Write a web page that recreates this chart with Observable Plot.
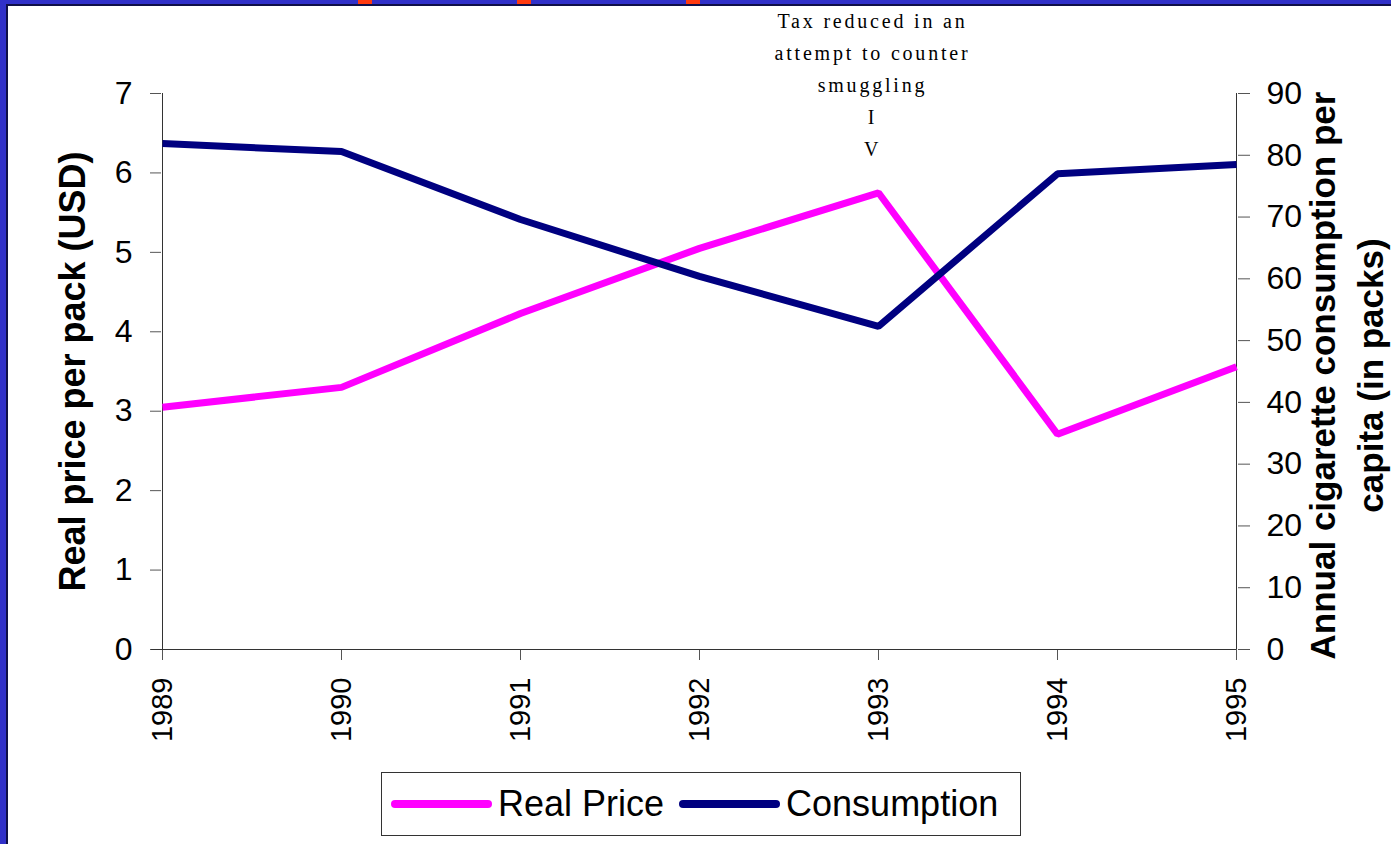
<!DOCTYPE html>
<html><head><meta charset="utf-8">
<script src="https://cdn.jsdelivr.net/npm/d3@7"></script>
<script src="https://cdn.jsdelivr.net/npm/@observablehq/plot@0.6"></script>
<style>
html,body{margin:0;padding:0;}
body{width:1391px;height:844px;background:#3131C9;position:relative;overflow:hidden;font-family:"Liberation Sans",Arial,sans-serif;}
#panel{position:absolute;left:6px;top:4px;right:0;bottom:0;background:#fff;border-left:2px solid #101048;border-top:2px solid #101048;}
.frag{position:absolute;top:0;width:14px;height:4px;background:#FF3A10;}
#chart{position:absolute;left:0;top:0;}
#legend{position:absolute;left:381px;top:772px;width:638px;height:62px;border:1px solid #333;background:#fff;display:flex;align-items:center;font-size:36px;color:#000;}
.sw{display:inline-block;height:8px;border-radius:4px;}
.anno text{letter-spacing:2.8px;}
</style></head>
<body>
<div id="panel"></div>
<div class="frag" style="left:358px"></div>
<div class="frag" style="left:517px"></div>
<div class="frag" style="left:686px"></div>
<div id="chart"></div>
<div id="legend"></div>
<script>
const years = [1989, 1990, 1991, 1992, 1993, 1994, 1995];
const realPrice = [3.05, 3.30, 4.23, 5.05, 5.75, 2.71, 3.56];
const consumption = [81.9, 80.6, 69.6, 60.4, 52.3, 77.0, 78.5];
const priceTicks = [0, 1, 2, 3, 4, 5, 6, 7];
const consumptionTicks = [0, 10, 20, 30, 40, 50, 60, 70, 80, 90];
const seriesNames = ["Real Price", "Consumption"];
const seriesColors = ["#FF00FF", "#000080"];
const annotationLines = ["Tax reduced in an", "attempt to counter", "smuggling", "I", "V"];
const leftTitle = "Real price per pack (USD)";
const rightTitle = ["Annual cigarette consumption per", "capita (in packs)"];

const priceMax = 7, consMax = 90;
const toLeft = v => v * priceMax / consMax;

const priceData = years.map((y, i) => ({year: y, value: realPrice[i]}));
const consData = years.map((y, i) => ({year: y, value: toLeft(consumption[i])}));

const chart = Plot.plot({
  width: 1391,
  height: 844,
  marginLeft: 161,
  marginRight: 154,
  marginTop: 93,
  marginBottom: 195,
  style: {background: "transparent", fontFamily: "'Liberation Sans', Arial, sans-serif", color: "#000", overflow: "visible"},
  x: {type: "point", domain: years, padding: 0},
  y: {domain: [0, priceMax]},
  marks: [
    Plot.axisY(priceTicks, {anchor: "left", tickSize: 11, tickPadding: 18, fontSize: 32, label: null, stroke: "#555", tickFormat: d => String(d)}),
    Plot.axisY(consumptionTicks.map(toLeft), {anchor: "right", tickSize: 12, tickPadding: 17, fontSize: 32, label: null, stroke: "#555", tickFormat: v => String(Math.round(v * consMax / priceMax))}),
    Plot.axisX({anchor: "bottom", tickSize: 11, tickPadding: 17, tickRotate: -90, fontSize: 29, label: null, tickFormat: d => String(d), stroke: "#555"}),
    Plot.ruleX([years[0]], {stroke: "#333", y1: 0, y2: priceMax}),
    Plot.ruleX([years[years.length - 1]], {stroke: "#333", y1: 0, y2: priceMax}),
    Plot.ruleY([0], {stroke: "#333", x1: years[0], x2: years[years.length - 1], insetLeft: -11}),
    Plot.line(priceData, {x: "year", y: "value", stroke: seriesColors[0], strokeWidth: 7, strokeLinejoin: "miter", strokeLinecap: "butt"}),
    Plot.line(consData, {x: "year", y: "value", stroke: seriesColors[1], strokeWidth: 7, strokeLinejoin: "miter", strokeLinecap: "butt"}),
    Plot.text([leftTitle], {frameAnchor: "left", dx: -88, rotate: -90, textAnchor: "middle", fontWeight: "bold", fontSize: 36}),
    Plot.text([rightTitle.join("\n")], {frameAnchor: "right", dx: 106, dy: 4, rotate: -90, textAnchor: "middle", fontWeight: "bold", fontSize: 35, lineHeight: 1.38}),
    Plot.text([annotationLines.join("\n")], {x: () => 1993, y: () => priceMax, dx: -6, dy: -88, lineAnchor: "top", fontFamily: "'Liberation Serif', 'Times New Roman', serif", fontSize: 20, lineHeight: 1.6, className: "anno"})
  ]
});
document.getElementById("chart").appendChild(chart);

const legend = document.getElementById("legend");
seriesNames.forEach((name, i) => {
  const sw = document.createElement("span");
  sw.className = "sw";
  sw.style.background = seriesColors[i];
  sw.style.width = "101px";
  sw.style.marginLeft = i === 0 ? "9px" : "15px";
  sw.style.marginRight = "6px";
  legend.appendChild(sw);
  const t = document.createElement("span");
  t.textContent = name;
  legend.appendChild(t);
});
</script>
</body></html>
